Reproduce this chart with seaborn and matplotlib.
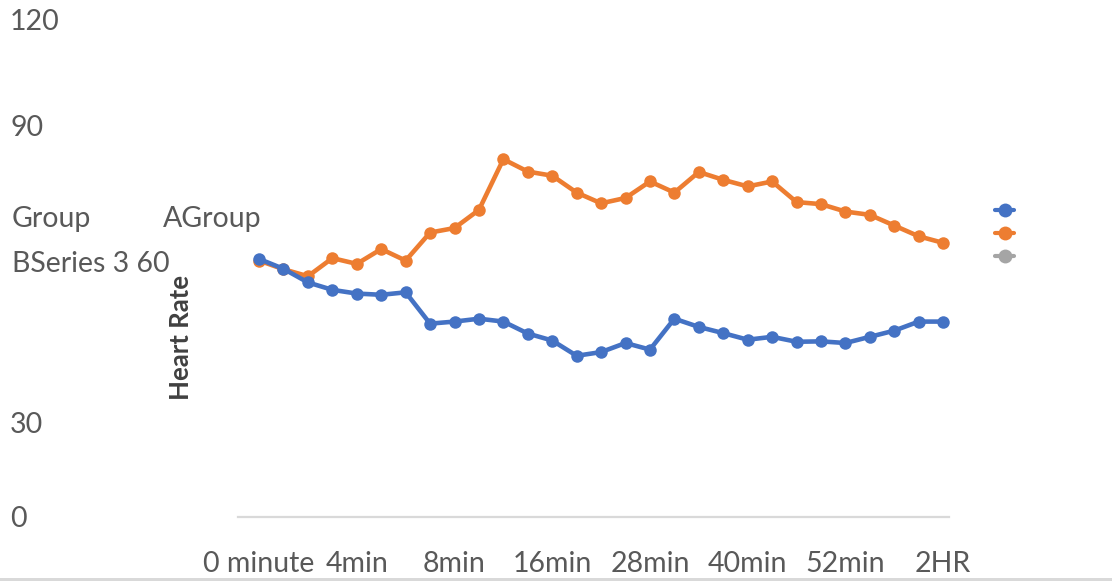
import numpy as np
import pandas as pd
import matplotlib.pyplot as plt
import seaborn as sns
from matplotlib.lines import Line2D

# time points (only every 4th one is labelled on the axis)
times = ["0 minute", "1min", "2min", "3min", "4min", "5min", "6min", "7min",
         "8min", "10min", "12min", "14min", "16min", "19min", "22min", "25min",
         "28min", "31min", "34min", "37min", "40min", "43min", "46min", "49min",
         "52min", "55min", "58min", "1HR", "2HR"]

group_a = [62.5, 60.1, 56.8, 55.0, 54.1, 53.8, 54.4, 46.8, 47.3, 48.0,
           47.3, 44.4, 42.7, 39.0, 39.9, 42.1, 40.5, 48.0, 46.0, 44.5,
           42.9, 43.6, 42.4, 42.5, 42.1, 43.6, 45.1, 47.3, 47.3]
group_b = [62.1, 60.0, 58.3, 62.7, 61.3, 64.9, 62.1, 68.9, 70.0, 74.4,
           86.7, 83.7, 82.7, 78.6, 76.0, 77.3, 81.3, 78.6, 83.6, 81.7,
           80.1, 81.3, 76.3, 75.8, 74.0, 73.2, 70.6, 68.0, 66.4]

series_names = ["Group A", "Group B", "Series 3"]
colors = ["#4472C4", "#ED7D31", "#A5A5A5"]

# the broken y-axis/legend text as it appears on the left
ytick_text = ["120", "90", "30", "0"]

df = pd.DataFrame({"time": times, "Group A": group_a, "Group B": group_b})

sns.set_style("white")
plt.rcParams["font.family"] = ["Lato", "DejaVu Sans"]

W, H = 1112, 581
fs = 20.5
fig = plt.figure(figsize=(W / 100, H / 100), dpi=100)
ax = fig.add_axes([238.3 / W, (H - 516.5) / H, (949 - 238.3) / W, (516.5 - 22) / H])

line_kw = dict(marker="o", markersize=9, markeredgewidth=0, linewidth=3.3,
               sort=False, errorbar=None, legend=False)
# orange under blue
sns.lineplot(data=df, x="time", y="Group B", color=colors[1], ax=ax, **line_kw)
sns.lineplot(data=df, x="time", y="Group A", color=colors[0], ax=ax, **line_kw)

ax.set_ylim(0, 120)
ax.set_xlim(-0.847, 28.24)
ax.set_yticks([])
ax.set_xticks(range(0, len(times), 4))
ax.set_xticklabels(times[::4])
ax.set_xticks(np.arange(len(times) + 1) - 0.85, minor=True)
ax.tick_params(axis="x", which="major", length=0, pad=25, labelsize=fs,
               labelcolor="#595959")
ax.tick_params(axis="x", which="minor", length=4, width=1.2, color="#D9D9D9",
               direction="out")
ax.set_xlabel("")
for s in ["left", "top", "right"]:
    ax.spines[s].set_visible(False)
ax.spines["bottom"].set_color("#D9D9D9")
ax.spines["bottom"].set_linewidth(1.6)

ax.set_ylabel("Heart Rate", fontsize=18.5, fontweight="bold", color="#404040")
ax.yaxis.set_label_coords((193 - 238.3) / (949 - 238.3), (516.5 - 338) / (516.5 - 22))

# value labels stacked on the left
for txt, ypx in zip(ytick_text, [22, 128, 425, 519]):
    fig.text(10 / W, 1 - ypx / H, txt, ha="left", va="center", fontsize=fs,
             color="#595959")
fig.text(12 / W, 1 - 219 / H, "Group", ha="left", va="center", fontsize=fs, color="#595959")
fig.text(163 / W, 1 - 219 / H, "AGroup", ha="left", va="center", fontsize=fs, color="#595959")
fig.text(12 / W, 1 - 264 / H, "BSeries 3 60", ha="left", va="center", fontsize=fs,
         color="#595959")

# legend with no text
handles = [Line2D([], [], color=c, marker="o", markersize=10, markeredgewidth=0,
                  linewidth=3) for c in colors]
fig.legend(handles, ["", "", ""], loc="center", bbox_to_anchor=(1006 / W, 1 - 234 / H),
           frameon=False, fontsize=10, handlelength=1.4, handletextpad=0.2,
           labelspacing=0.8)

# grey strip along the bottom
fig.add_artist(plt.Rectangle((0, 0), 1, 3.5 / H, transform=fig.transFigure,
                             color="#D9D9D9", lw=0))

fig.savefig("out.png", dpi=100)
